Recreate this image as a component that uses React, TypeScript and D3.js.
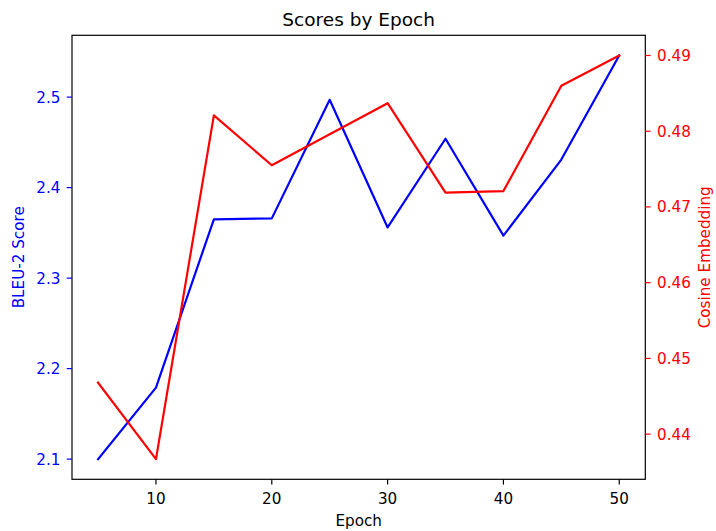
import React from "react";
import * as d3 from "d3";

const epochs = [5, 10, 15, 20, 25, 30, 35, 40, 45, 50];
const bleuScores = [2.1, 2.179, 2.365, 2.366, 2.497, 2.356, 2.454, 2.347, 2.431, 2.546];
const cosineScores = [0.4468, 0.4367, 0.4821, 0.4755, 0.4796, 0.4837, 0.4719, 0.4721, 0.486, 0.49];
const xTicks = [10, 20, 30, 40, 50];
const leftTicks = [2.1, 2.2, 2.3, 2.4, 2.5];
const rightTicks = [0.44, 0.45, 0.46, 0.47, 0.48, 0.49];

const W = 716;
const H = 531;
const L = 72;
const R = 645.3;
const T = 35.3;
const B = 479.3;
const FONT = "DejaVu Sans, sans-serif";
const BLUE = "#0000ff";
const RED = "#ff0000";

function padded(vals: number[]): [number, number] {
  const mn = d3.min(vals) as number;
  const mx = d3.max(vals) as number;
  const r = mx - mn;
  return [mn - 0.05 * r, mx + 0.05 * r];
}

export default function App() {
  const x = d3.scaleLinear().domain(padded(epochs)).range([L, R]);
  const yL = d3.scaleLinear().domain(padded(bleuScores)).range([B, T]);
  const yR = d3.scaleLinear().domain(padded(cosineScores)).range([B, T]);

  const lineL = d3
    .line<number>()
    .x((_, i) => x(epochs[i]))
    .y((d) => yL(d));
  const lineR = d3
    .line<number>()
    .x((_, i) => x(epochs[i]))
    .y((d) => yR(d));

  const tickLen = 5.3;
  const fs = 15.2;

  return (
    <svg
      width={W}
      height={H}
      style={{ position: "absolute", left: 0, top: 0, background: "#fff" }}
      fontFamily={FONT}
    >
      <rect x={0} y={0} width={W} height={H} fill="#fff" />
      <path d={lineL(bleuScores) || ""} fill="none" stroke={BLUE} strokeWidth={2.2} strokeLinejoin="round" strokeLinecap="square" />
      <path d={lineR(cosineScores) || ""} fill="none" stroke={RED} strokeWidth={2.2} strokeLinejoin="round" strokeLinecap="square" />
      <rect x={L} y={T} width={R - L} height={B - T} fill="none" stroke="#000" strokeWidth={1.2} />

      {xTicks.map((t) => (
        <g key={"x" + t}>
          <line x1={x(t)} x2={x(t)} y1={B} y2={B + tickLen} stroke="#000" strokeWidth={1.2} />
          <text x={x(t)} y={504} textAnchor="middle" fontSize={fs} fill="#000">
            {t}
          </text>
        </g>
      ))}
      {leftTicks.map((t) => (
        <g key={"l" + t}>
          <line x1={L - tickLen} x2={L} y1={yL(t)} y2={yL(t)} stroke={BLUE} strokeWidth={1.2} />
          <text x={60.5} y={yL(t)} dy="0.36em" textAnchor="end" fontSize={fs} fill={BLUE}>
            {t.toFixed(1)}
          </text>
        </g>
      ))}
      {rightTicks.map((t) => (
        <g key={"r" + t}>
          <line x1={R} x2={R + tickLen} y1={yR(t)} y2={yR(t)} stroke={RED} strokeWidth={1.2} />
          <text x={657} y={yR(t)} dy="0.36em" textAnchor="start" fontSize={fs} fill={RED}>
            {t.toFixed(2)}
          </text>
        </g>
      ))}

      <text x={(L + R) / 2} y={26} textAnchor="middle" fontSize={18.5} fill="#000">
        Scores by Epoch
      </text>
      <text x={(L + R) / 2} y={525.5} textAnchor="middle" fontSize={fs} fill="#000">
        Epoch
      </text>
      <text
        transform={`translate(24, ${(T + B) / 2}) rotate(-90)`}
        textAnchor="middle"
        fontSize={fs}
        fill={BLUE}
      >
        BLEU-2 Score
      </text>
      <text
        transform={`translate(710.4, ${(T + B) / 2}) rotate(-90)`}
        textAnchor="middle"
        fontSize={fs}
        fill={RED}
      >
        Cosine Embedding
      </text>
    </svg>
  );
}
